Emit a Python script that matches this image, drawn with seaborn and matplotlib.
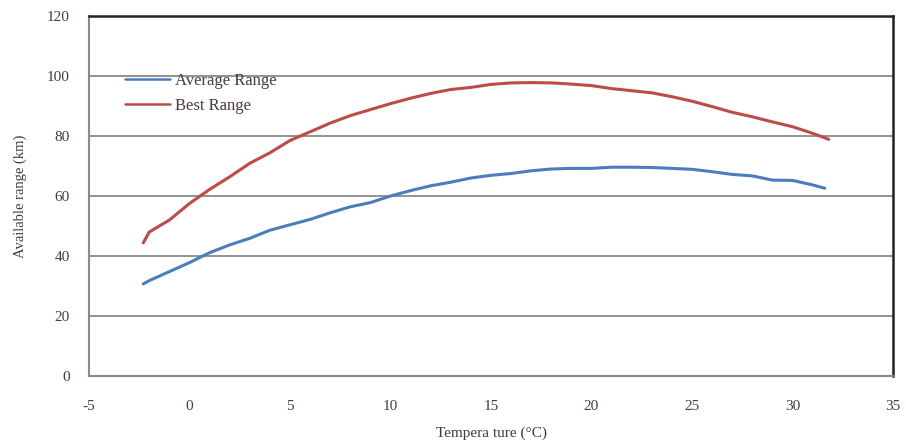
import numpy as np
import pandas as pd
import matplotlib
matplotlib.use("Agg")
import matplotlib.pyplot as plt
import seaborn as sns

# Data
temp_avg = [-2.3, -2, -1, 0, 1, 2, 3, 4, 5, 6, 7, 8, 9, 10, 11, 12, 13, 14, 15, 16,
            17, 18, 19, 20, 21, 22, 23, 24, 25, 26, 27, 28, 29, 30, 31, 31.6]
avg_range = [30.7, 31.8, 34.8, 37.8, 41.1, 43.7, 45.9, 48.6, 50.4, 52.2, 54.4, 56.4, 57.8, 60.0,
             61.8, 63.4, 64.6, 66.0, 66.9, 67.5, 68.4, 69.0, 69.2, 69.2, 69.6, 69.6, 69.5,
             69.2, 68.9, 68.1, 67.2, 66.7, 65.3, 65.2, 63.7, 62.6]
temp_best = [-2.3, -2, -1, 0, 1, 2, 3, 4, 5, 6, 7, 8, 9, 10, 11, 12, 13, 14, 15, 16,
             17, 18, 19, 20, 21, 22, 23, 24, 25, 26, 27, 28, 29, 30, 31, 31.8]
best_range = [44.4, 48.0, 52.0, 57.5, 62.2, 66.4, 70.9, 74.4, 78.5, 81.4, 84.3, 86.8, 88.8,
              90.8, 92.6, 94.2, 95.5, 96.2, 97.2, 97.7, 97.8, 97.7, 97.3, 96.8, 95.8, 95.1,
              94.4, 93.1, 91.6, 89.8, 87.9, 86.4, 84.7, 83.1, 80.9, 78.9]
series_names = ["Average Range", "Best Range"]
x_ticks = [-5, 0, 5, 10, 15, 20, 25, 30, 35]
y_ticks = [0, 20, 40, 60, 80, 100, 120]

df = pd.concat([
    pd.DataFrame({"Temperature": temp_avg, "Range": avg_range, "Series": series_names[0]}),
    pd.DataFrame({"Temperature": temp_best, "Range": best_range, "Series": series_names[1]}),
], ignore_index=True)

sns.set_theme(style="white")
plt.rcParams["font.family"] = ["Liberation Serif", "DejaVu Serif"]
plt.rcParams["axes.unicode_minus"] = False

fig = plt.figure(figsize=(9.06, 4.46), dpi=100)
ax = fig.add_axes([89 / 906, 1 - 376 / 446, (893 - 89) / 906, (376 - 16) / 446])

palette = {series_names[0]: "#4a7ebb", series_names[1]: "#be4b48"}
sns.lineplot(data=df, x="Temperature", y="Range", hue="Series", palette=palette,
             linewidth=2.2, ax=ax, sort=False, estimator=None)

ax.set_xlim(-5, 35)
ax.set_ylim(0, 120)
ax.set_xticks(x_ticks)
ax.set_yticks(y_ticks)
ax.yaxis.grid(True, color="#8a8a8a", linewidth=1.3)
ax.xaxis.grid(False)
ax.set_axisbelow(True)

for side in ["left", "bottom"]:
    ax.spines[side].set_color("#8a8a8a")
    ax.spines[side].set_linewidth(1.5)
for side in ["top", "right"]:
    ax.spines[side].set_color("#222222")
    ax.spines[side].set_linewidth(1.8)

ax.tick_params(axis="x", length=0, pad=17, labelsize=11, colors="#4a3a3a")
ax.tick_params(axis="y", length=0, pad=14, labelsize=11, colors="#4a3a3a")

ax.set_xlabel("Tempera ture (°C)", fontsize=11, color="#3a3a4a", labelpad=10)
ax.set_ylabel("Available range (km)", fontsize=10.5, color="#3a3a4a", labelpad=14)

leg = ax.legend(loc="upper left", bbox_to_anchor=(0.036, 0.86), frameon=False,
                fontsize=12, handlelength=2.7, handletextpad=0.35, labelspacing=0.55,
                labelcolor="#4a3a3a", borderaxespad=0)
for line in leg.get_lines():
    line.set_linewidth(1.8)

fig.savefig("out.png", dpi=100)
